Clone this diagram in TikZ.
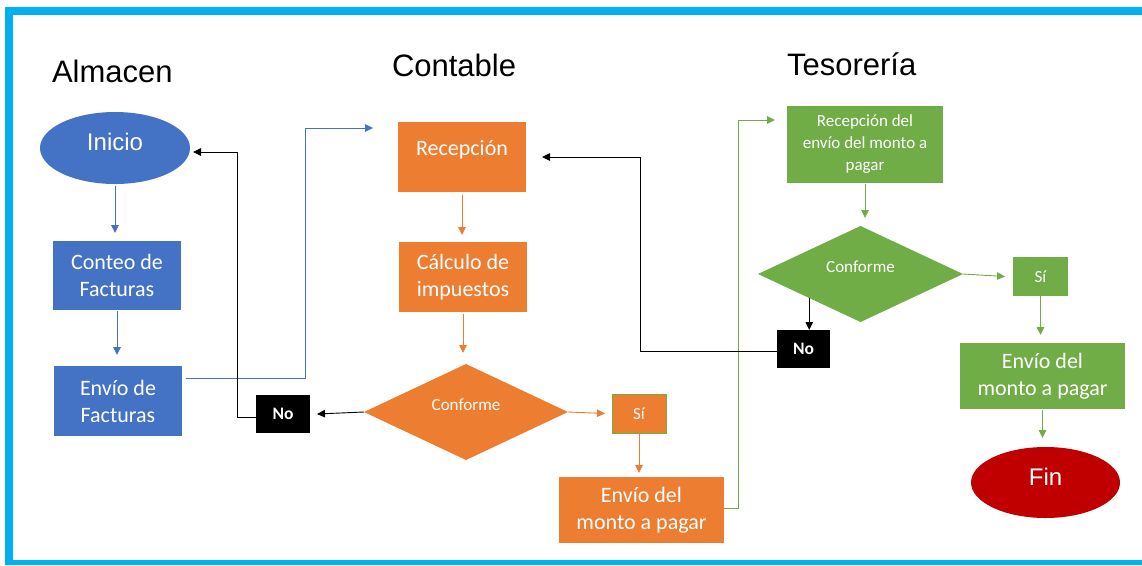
\documentclass[tikz,border=0pt]{standalone}
\usepackage{fontspec}
\setmainfont{Carlito}
\newfontfamily\arialfont{Liberation Sans}
\usetikzlibrary{shapes.geometric,arrows.meta}
\definecolor{frameblue}{HTML}{00B0F0}
\definecolor{offblue}{HTML}{4472C4}
\definecolor{offorange}{HTML}{ED7D31}
\definecolor{offgreen}{HTML}{70AD47}
\definecolor{offred}{HTML}{C00000}

\begin{document}
\begin{tikzpicture}[x=1pt,y=-1pt,
  every node/.style={inner sep=0pt, outer sep=0pt, text=white, align=center},
  sz/.style 2 args={minimum width=#1pt, minimum height=#2pt},
  title/.style={anchor=base west, text=black, font=\arialfont\fontsize{31}{31}\selectfont},
  terminal/.style={ellipse, fill=#1, font=\arialfont\fontsize{24}{24}\selectfont, text depth=12pt},
  stepbox/.style={rectangle, fill=#1, font=\fontsize{22}{27}\selectfont},
  smallbox/.style={rectangle, fill=#1, font=\fontsize{17}{22}\selectfont},
  decision/.style={diamond, aspect=2.1, fill=#1, font=\fontsize{17}{17}\selectfont, text depth=14pt},
  answer/.style={rectangle, fill=#1, font=\fontsize{17}{17}\selectfont},
  nobox/.style={rectangle, fill=black, font=\bfseries\fontsize{17.5}{17.5}\selectfont},
  conn/.style={draw=#1, line width=0.9pt, -{Triangle[length=8pt,width=7.5pt]}},
]
\useasboundingbox (0,0) rectangle (1142,565);

% frame
\fill[frameblue] (5,7) rectangle (1142,15);
\fill[frameblue] (5,7) rectangle (13,565);
\fill[frameblue] (5,560) rectangle (1142,565);

% lane titles
\node[title] (tAlm) at (52,82) {Almacen};
\node[title] (tCon) at (392,76) {Contable};
\node[title] (tTes) at (787,75) {Tesorería};

% Almacen
\node[terminal=offblue, sz={150}{72}] (ini) at (115,148) {Inicio};
\node[stepbox=offblue, sz={128}{69}] (cnt) at (117,275.5) {Conteo de\\Facturas};
\node[stepbox=offblue, sz={128}{70}] (env) at (118,401) {Envío de\\Facturas};

% Contable
\node[stepbox=offorange, sz={128}{70}, text depth=18pt] (rec) at (462,157) {Recepción};
\node[stepbox=offorange, sz={128}{70}] (cal) at (463,277) {Cálculo de\\impuestos};
\node[decision=offorange, sz={204}{96}] (dia1) at (466,412) {Conforme};
\node[answer=offorange, draw=offgreen, line width=0.9pt, sz={54}{39}] (si1) at (639,413.5) {Sí};
\node[nobox, sz={54}{38}] (no1) at (283,414) {No};
\node[stepbox=offorange, sz={165}{66}] (env2) at (641.5,510) {Envío del\\monto a pagar};

% Tesoreria
\node[smallbox=offgreen, sz={156}{77}] (rec3) at (865,144.5) {Recepción del\\envío del monto a\\pagar};
\node[decision=offgreen, sz={205}{96}] (dia2) at (860.5,274) {Conforme};
\node[answer=offgreen, sz={55}{39}] (si3) at (1040.5,276.5) {Sí};
\node[nobox, sz={53}{38}] (no3) at (803.5,349) {No};
\node[stepbox=offgreen, sz={165}{66}] (env3) at (1042.5,376) {Envío del\\monto a pagar};
\node[terminal=offred, sz={149}{71}] (fin) at (1045.5,482.5) {Fin};

% Almacen flow
\draw[conn=offblue, shorten <=2pt, shorten >=8pt] (ini.south) -- (ini.south |- cnt.north);
\draw[conn=offblue, shorten <=1pt, shorten >=11pt] (cnt.south) -- (cnt.south |- env.north);
\draw[conn=offblue] ([xshift=4pt,yshift=23pt]env.east) -- ++(119,0) |- ([xshift=-25pt,yshift=29pt]rec.west);

% Contable flow
\draw[conn=offorange, shorten <=3pt, shorten >=7pt] (rec.south) -- (rec.south |- cal.north);
\draw[conn=offorange, shorten <=2pt, shorten >=11pt] (cal.south) -- (cal.south |- dia1.north);
\draw[conn=black] (dia1.west) -- ([xshift=7pt]no1.east);
\draw[conn=black] ([yshift=-3pt]no1.west) -- ++(-19,0) |- ([xshift=3pt,yshift=-4pt]ini.east);
\draw[conn=offorange] (dia1.east) -- ([xshift=-7pt]si1.west);
\draw[conn=offorange, shorten >=4pt] (si1.south) -- (si1.south |- env2.north);
\draw[conn=offgreen] ([yshift=2pt]env2.east) -- ++(14,0) |- ([xshift=-12pt,yshift=24.5pt]rec3.west);

% Tesoreria flow
\draw[conn=offgreen, shorten <=1pt, shorten >=8pt] (rec3.south) -- (rec3.south |- dia2.north);
\draw[conn=offgreen] (dia2.east) -- ([xshift=-8pt]si3.west);
\draw[conn=offgreen, shorten >=8pt] (si3.south) -- (si3.south |- env3.north);
\draw[conn=offgreen, shorten <=1pt, shorten >=9pt] (env3.south) -- (env3.south |- fin.north);
\draw[conn=black] (dia2.south west) -- (dia2.south west |- no3.north);
\draw[conn=black] ([yshift=-2pt]no3.west) -- ++(-137,0) |- ([xshift=16pt]rec.east);
\end{tikzpicture}
\end{document}
